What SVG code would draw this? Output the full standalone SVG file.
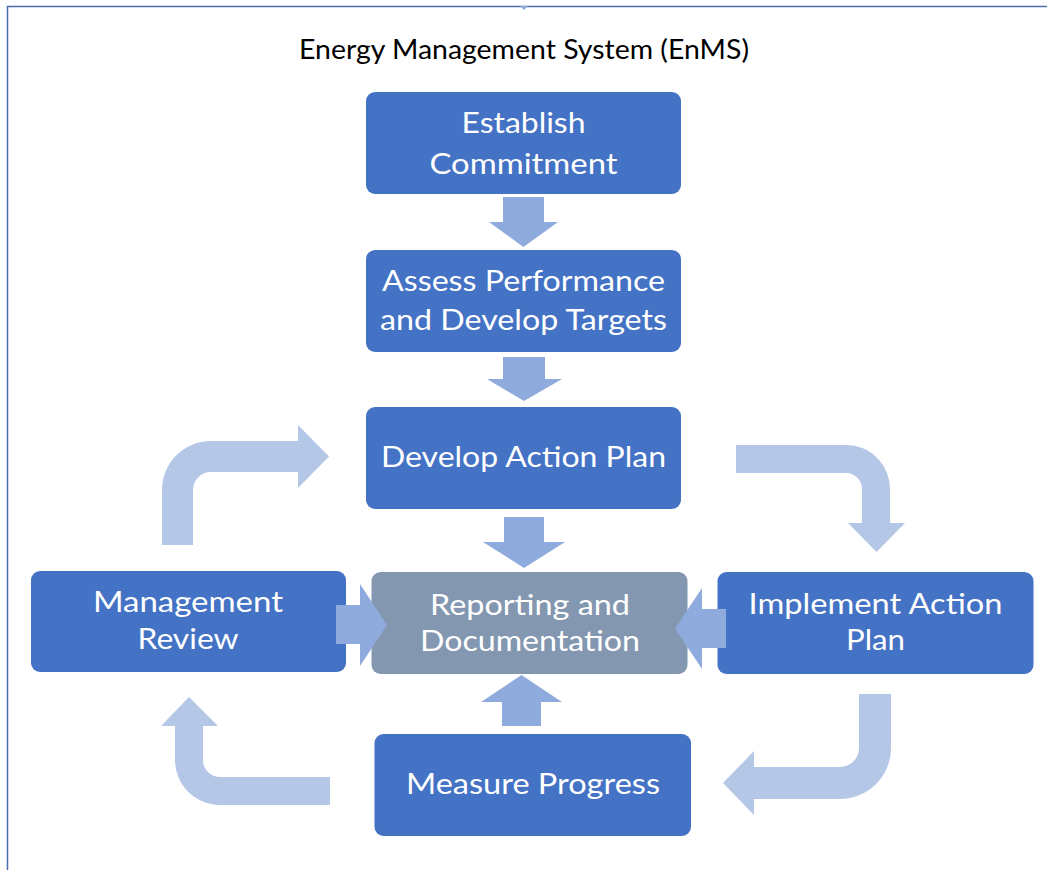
<svg xmlns="http://www.w3.org/2000/svg" width="1047" height="870" viewBox="0 0 1047 870">
  <style>
    .node { fill: #4472C4; }
    .hub { fill: #8497B0; }
    .label { font-family: Lato, "Open Sans", "Liberation Sans", sans-serif; font-size: 29px; fill: #FFFFFF; text-anchor: middle; }
    .title { font-family: Lato, "Open Sans", "Liberation Sans", sans-serif; font-size: 26px; fill: #000000; text-anchor: middle; }
    .step { fill: #8FAADC; }
    .loop { fill: #B4C7E7; }
  </style>

  <rect x="0" y="0" width="1047" height="870" fill="#FFFFFF"/>

  <!-- frame -->
  <g id="frame">
    <path d="M7.5,870 L7.5,6.5 L1047,6.5" fill="none" stroke="#4A6EAB" stroke-width="1.5"/>
    <polygon points="520,6 528,6 524,10" fill="#8FAADC"/>
  </g>

  <text class="title" x="524" y="59" textLength="450" lengthAdjust="spacingAndGlyphs">Energy Management System (EnMS)</text>

  <!-- process steps -->
  <g id="establish-commitment">
    <rect class="node" x="366" y="92" width="315" height="102" rx="9"/>
    <text class="label" x="523.5" y="133" textLength="124" lengthAdjust="spacingAndGlyphs">Establish</text>
    <text class="label" x="523.5" y="173.5" textLength="188" lengthAdjust="spacingAndGlyphs">Commitment</text>
  </g>

  <g id="assess-performance">
    <rect class="node" x="366" y="250" width="315" height="102" rx="9"/>
    <text class="label" x="523.5" y="291" textLength="283" lengthAdjust="spacingAndGlyphs">Assess Performance</text>
    <text class="label" x="523.5" y="329.5" textLength="287" lengthAdjust="spacingAndGlyphs">and Develop Targets</text>
  </g>

  <g id="develop-action-plan">
    <rect class="node" x="366" y="407" width="315" height="102" rx="9"/>
    <text class="label" x="523.5" y="467" textLength="285" lengthAdjust="spacingAndGlyphs">Develop Action Plan</text>
  </g>

  <g id="reporting-documentation">
    <rect class="hub" x="371.5" y="572" width="316" height="102" rx="9"/>
    <text class="label" x="530" y="614.5" textLength="200" lengthAdjust="spacingAndGlyphs">Reporting and</text>
    <text class="label" x="530" y="651" textLength="220" lengthAdjust="spacingAndGlyphs">Documentation</text>
  </g>

  <g id="management-review">
    <rect class="node" x="31" y="571" width="315" height="101" rx="9"/>
    <text class="label" x="188" y="612" textLength="190" lengthAdjust="spacingAndGlyphs">Management</text>
    <text class="label" x="188" y="648.5" textLength="101" lengthAdjust="spacingAndGlyphs">Review</text>
  </g>

  <g id="implement-action-plan">
    <rect class="node" x="717.5" y="572" width="316" height="102" rx="9"/>
    <text class="label" x="875.5" y="614" textLength="254" lengthAdjust="spacingAndGlyphs">Implement Action</text>
    <text class="label" x="875.5" y="650" textLength="59" lengthAdjust="spacingAndGlyphs">Plan</text>
  </g>

  <g id="measure-progress">
    <rect class="node" x="374.5" y="734" width="316.5" height="102" rx="9"/>
    <text class="label" x="533" y="794" textLength="254" lengthAdjust="spacingAndGlyphs">Measure Progress</text>
  </g>

  <!-- connectors -->
  <g id="connectors">
    <!-- straight block arrows -->
    <polygon class="step" points="503,197 544,197 544,222 558,222 523.5,247 489,222 503,222"/>
    <polygon class="step" points="503,357 545,357 545,379 562,379 524,401 487,379 503,379"/>
    <polygon class="step" points="504,517 544,517 544,542 565,542 524,568 483,542 504,542"/>
    <polygon class="step" points="336,605 360,605 360,584 387,625 360,666 360,644 336,644"/>
    <polygon class="step" points="726,609 702,609 702,588 675,628.5 702,669 702,648 726,648"/>
    <polygon class="step" points="502,726 502,702 481,702 521.5,675 562,702 541,702 541,726"/>

    <!-- bent cycle arrows -->
    <path class="loop" d="M162,545 L162,490 A49,49 0 0 1 211,441 L298,441 L298,425 L329,456.5 L298,488 L298,472 L211,472 A18,18 0 0 0 193,490 L193,545 Z"/>
    <path class="loop" d="M736,445 L846,445 A44,44 0 0 1 890,489 L890,523 L905,523 L876.5,552 L848,523 L862,523 L862,489 A16,16 0 0 0 846,473 L736,473 Z"/>
    <path class="loop" d="M859,694 L891,694 L891,748 A51,51 0 0 1 840,799 L754,799 L754,815 L723,783 L754,751 L754,767 L840,767 A19,19 0 0 0 859,748 Z"/>
    <path class="loop" d="M330,777 L220,777 A17,17 0 0 1 203,760 L203,726 L218,726 L189,697 L161,726 L175,726 L175,760 A45,45 0 0 0 220,805 L330,805 Z"/>
  </g>
</svg>
